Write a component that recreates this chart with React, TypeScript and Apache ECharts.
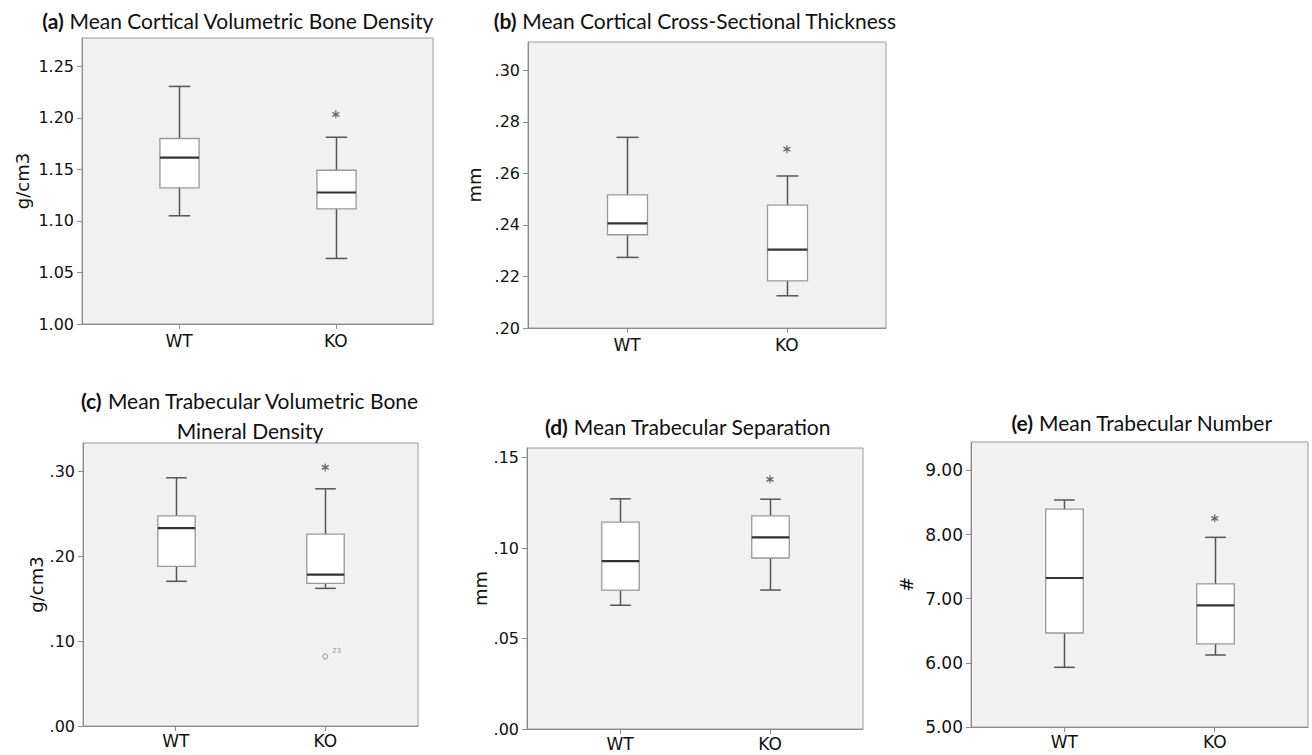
import React, { useEffect, useRef } from 'react';
import * as echarts from 'echarts';

const categories = ['WT', 'KO'];

// Box statistics per group: [min, Q1, median, Q3, max]
const corticalDensityWT = [1.105, 1.132, 1.1615, 1.18, 1.2305];
const corticalDensityKO = [1.0636, 1.1118, 1.1276, 1.1492, 1.1812];
const corticalDensityExtremes = [[1, 1.2035]];
const corticalDensityTicks = [1.0, 1.05, 1.1, 1.15, 1.2, 1.25];
const corticalDensityRange = [1.0, 1.2775];

const corticalThicknessWT = [0.2274, 0.2362, 0.2406, 0.2517, 0.274];
const corticalThicknessKO = [0.2125, 0.2183, 0.2304, 0.2477, 0.259];
const corticalThicknessExtremes = [[1, 0.2694]];
const corticalThicknessTicks = [0.2, 0.22, 0.24, 0.26, 0.28, 0.3];
const corticalThicknessRange = [0.2, 0.311];

const trabecularDensityWT = [0.1705, 0.1882, 0.2331, 0.2476, 0.2925];
const trabecularDensityKO = [0.1622, 0.1681, 0.1783, 0.226, 0.2795];
const trabecularDensityExtremes = [[1, 0.3047]];
const trabecularDensityOutliers = [[1, 0.0819]];
const trabecularDensityOutlierIds = ['23'];
const trabecularDensityTicks = [0.0, 0.1, 0.2, 0.3];
const trabecularDensityRange = [0.0, 0.3335];

const trabecularSeparationWT = [0.0684, 0.0768, 0.0928, 0.1143, 0.1272];
const trabecularSeparationKO = [0.0768, 0.0945, 0.1059, 0.1178, 0.127];
const trabecularSeparationExtremes = [[1, 0.138]];
const trabecularSeparationTicks = [0.0, 0.05, 0.1, 0.15];
const trabecularSeparationRange = [0.0, 0.1553];

const trabecularNumberWT = [5.93, 6.465, 7.322, 8.397, 8.538];
const trabecularNumberKO = [6.122, 6.294, 6.896, 7.229, 7.956];
const trabecularNumberExtremes = [[1, 8.252]];
const trabecularNumberTicks = [5, 6, 7, 8, 9];
const trabecularNumberRange = [5, 9.4416];

const titles = [
  'Mean Cortical Volumetric Bone Density',
  'Mean Cortical Cross-Sectional Thickness',
  'Mean Trabecular Volumetric Bone\nMineral Density',
  'Mean Trabecular Separation',
  'Mean Trabecular Number',
];
const panelKeys = ['a', 'b', 'c', 'd', 'e'];
const units = ['g/cm3', 'mm', 'g/cm3', 'mm', '#'];

const panelData = [
  { wt: corticalDensityWT, ko: corticalDensityKO, ext: corticalDensityExtremes, out: [], ids: [], ticks: corticalDensityTicks, range: corticalDensityRange, lead: true },
  { wt: corticalThicknessWT, ko: corticalThicknessKO, ext: corticalThicknessExtremes, out: [], ids: [], ticks: corticalThicknessTicks, range: corticalThicknessRange, lead: false },
  { wt: trabecularDensityWT, ko: trabecularDensityKO, ext: trabecularDensityExtremes, out: trabecularDensityOutliers, ids: trabecularDensityOutlierIds, ticks: trabecularDensityTicks, range: trabecularDensityRange, lead: false },
  { wt: trabecularSeparationWT, ko: trabecularSeparationKO, ext: trabecularSeparationExtremes, out: [], ids: [], ticks: trabecularSeparationTicks, range: trabecularSeparationRange, lead: false },
  { wt: trabecularNumberWT, ko: trabecularNumberKO, ext: trabecularNumberExtremes, out: [], ids: [], ticks: trabecularNumberTicks, range: trabecularNumberRange, lead: true },
];

const layouts = [
  { grid: { left: 82, top: 38, width: 351, height: 286 }, tx: 238, ty: 7, gap: 51, fs: 16, xm: 8 },
  { grid: { left: 528, top: 42, width: 358, height: 286 }, tx: 695, ty: 7, gap: 45, fs: 16, xm: 8 },
  { grid: { left: 83, top: 443, width: 335, height: 283 }, tx: 250, ty: 385, gap: 31, fs: 16, xm: 6 },
  { grid: { left: 527, top: 448, width: 336, height: 281 }, tx: 688, ty: 413, gap: 36, fs: 16, xm: 6 },
  { grid: { left: 971, top: 442, width: 337, height: 285 }, tx: 1142, ty: 409, gap: 56, fs: 17, xm: 6 },
];

const ASTERISK = 'path://M3.5,0 L3.5,7 M0.47,1.75 L6.53,5.25 M0.47,5.25 L6.53,1.75';

function buildOption() {
  const title: any[] = [];
  const grid: any[] = [];
  const xAxis: any[] = [];
  const yAxis: any[] = [];
  const series: any[] = [];

  panelData.forEach((p, i) => {
    const L = layouts[i];
    title.push({
      text: `{b|(${panelKeys[i]})} ${titles[i]}`,
      left: L.tx,
      top: L.ty,
      textAlign: 'center',
      padding: 0,
      textStyle: {
        fontFamily: 'Lato',
        fontSize: 21,
        fontWeight: 'normal',
        color: '#111',
        lineHeight: i === 2 ? 30 : 26,
        rich: { b: { fontFamily: 'Lato', fontSize: 21, fontWeight: 'bold', color: '#111', lineHeight: i === 2 ? 30 : 26 } },
      },
    });
    grid.push({
      ...L.grid,
      show: true,
      backgroundColor: '#f1f1f1',
      borderColor: '#9a9a9a',
      borderWidth: 1,
    });
    xAxis.push({
      type: 'value',
      gridIndex: i,
      min: -0.62,
      max: 1.62,
      splitLine: { show: false },
      axisLine: { show: true, onZero: false, lineStyle: { color: '#8c8c8c', width: 1 } },
      axisTick: { show: true, length: 5, customValues: [0, 1], lineStyle: { color: '#8c8c8c' } },
      axisLabel: {
        customValues: [0, 1],
        formatter: (v: number) => categories[Math.round(v)],
        fontFamily: 'DejaVu Sans',
        fontSize: 17,
        color: '#111',
        margin: L.xm,
      },
    });
    const ticks = p.ticks;
    yAxis.push({
      type: 'value',
      gridIndex: i,
      min: p.range[0],
      max: p.range[1],
      name: units[i],
      nameLocation: 'middle',
      nameGap: L.gap,
      nameTextStyle: { fontFamily: 'DejaVu Sans', fontSize: 18, color: '#111' },
      splitLine: { show: false },
      axisLine: { show: true, onZero: false, lineStyle: { color: '#8c8c8c', width: 1 } },
      axisTick: { show: true, length: 5, customValues: ticks, lineStyle: { color: '#8c8c8c' } },
      axisLabel: {
        customValues: ticks,
        formatter: (v: number) => (p.lead ? v.toFixed(2) : v.toFixed(2).replace(/^0\./, '.')),
        fontFamily: 'DejaVu Sans',
        fontSize: L.fs,
        color: '#111',
        margin: 8,
      },
    });
    const boxData = [p.wt, p.ko].map((s, k) => [k, ...s]);
    series.push({
      type: 'custom',
      name: `box-${panelKeys[i]}`,
      xAxisIndex: i,
      yAxisIndex: i,
      encode: { x: 0, y: [1, 2, 3, 4, 5] },
      data: boxData,
      renderItem: (params: any, api: any) => {
        const x = api.value(0);
        const lo = api.coord([x, api.value(1)]);
        const q1 = api.coord([x, api.value(2)]);
        const med = api.coord([x, api.value(3)]);
        const q3 = api.coord([x, api.value(4)]);
        const hi = api.coord([x, api.value(5)]);
        const bw = api.size([1, 0])[0] * 0.25;
        const cw = bw * 0.55;
        const cx = Math.round(med[0]) + 0.5;
        const wStyle = { stroke: '#555', lineWidth: 1.5 };
        return {
          type: 'group',
          children: [
            { type: 'line', shape: { x1: cx, y1: hi[1], x2: cx, y2: q3[1] }, style: wStyle },
            { type: 'line', shape: { x1: cx, y1: q1[1], x2: cx, y2: lo[1] }, style: wStyle },
            { type: 'line', shape: { x1: cx - cw / 2, y1: hi[1], x2: cx + cw / 2, y2: hi[1] }, style: wStyle },
            { type: 'line', shape: { x1: cx - cw / 2, y1: lo[1], x2: cx + cw / 2, y2: lo[1] }, style: wStyle },
            { type: 'rect', shape: { x: cx - bw / 2, y: q3[1], width: bw, height: q1[1] - q3[1] }, style: { fill: '#ffffff', stroke: '#999999', lineWidth: 1.3 } },
            { type: 'line', shape: { x1: cx - bw / 2, y1: med[1], x2: cx + bw / 2, y2: med[1] }, style: { stroke: '#333333', lineWidth: 2.2 } },
          ],
        };
      },
      z: 2,
    });
    series.push({
      type: 'scatter',
      name: `extreme-${panelKeys[i]}`,
      xAxisIndex: i,
      yAxisIndex: i,
      symbol: ASTERISK,
      symbolSize: [7, 8],
      itemStyle: { color: 'transparent', borderColor: '#444', borderWidth: 1.3 },
      data: p.ext,
      z: 3,
    });
    if (p.out.length) {
      series.push({
        type: 'scatter',
        name: `outlier-${panelKeys[i]}`,
        xAxisIndex: i,
        yAxisIndex: i,
        symbol: 'circle',
        symbolSize: 5,
        itemStyle: { color: 'transparent', borderColor: '#777', borderWidth: 1 },
        data: p.out.map((v, k) => ({ value: v, name: p.ids[k] })),
        label: {
          show: true,
          formatter: '{b}',
          position: 'right',
          offset: [-1, -6],
          fontFamily: 'DejaVu Sans',
          fontSize: 7,
          color: '#777',
        },
        z: 3,
      });
    }
  });

  return {
    animation: false,
    backgroundColor: '#ffffff',
    title,
    grid,
    xAxis,
    yAxis,
    series,
  };
}

export default function App() {
  const ref = useRef<HTMLDivElement>(null);
  useEffect(() => {
    if (!ref.current) return;
    const chart = echarts.init(ref.current, undefined, { renderer: 'svg' });
    chart.setOption(buildOption() as any);
    return () => chart.dispose();
  }, []);
  return (
    <div
      ref={ref}
      style={{ position: 'fixed', left: 0, top: 0, width: 1312, height: 755, background: '#fff' }}
    />
  );
}
